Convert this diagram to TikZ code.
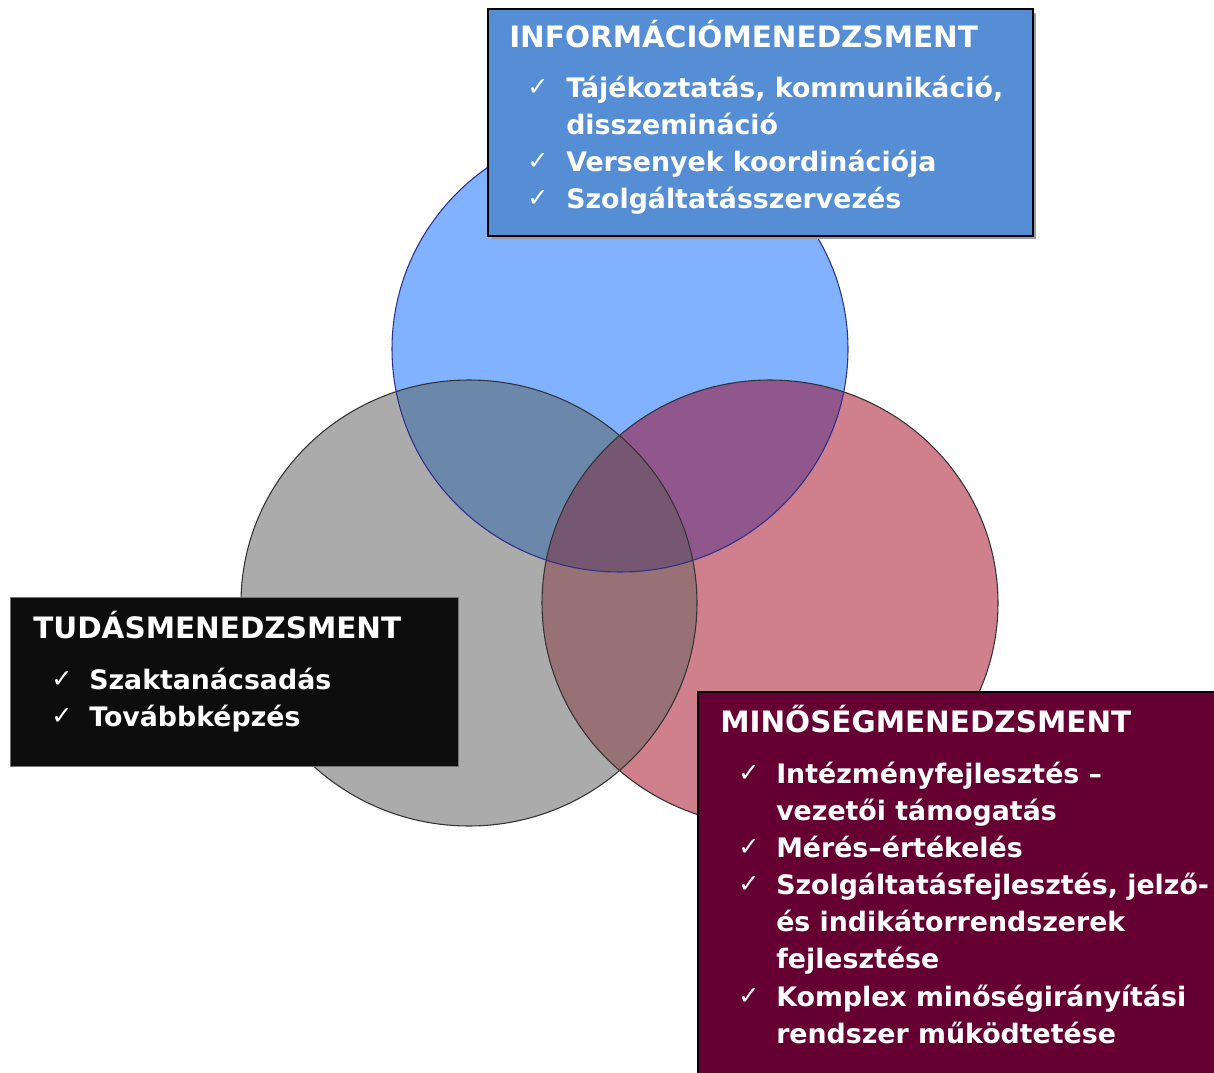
\documentclass[tikz,border=0pt]{standalone}
\usepackage{fontspec}
\setmainfont{DejaVu Sans}
\newfontfamily\chk{DejaVu Sans}
\definecolor{cblue}{HTML}{80B2FF}
\definecolor{cgray}{HTML}{ABABAB}
\definecolor{cred}{HTML}{D07F8C}
\definecolor{cbg}{HTML}{6B87AA}
\definecolor{cbr}{HTML}{8F578C}
\definecolor{cgr}{HTML}{977174}
\definecolor{call}{HTML}{765771}
\definecolor{boxblue}{HTML}{558ED5}
\definecolor{boxred}{HTML}{660033}
\definecolor{boxblack}{HTML}{0D0D0D}
\definecolor{shadowc}{HTML}{9C97AA}
\definecolor{bluerim}{HTML}{30308A}
\tikzset{
  ttl/.style={anchor=base west, text=white, inner sep=0pt, font=\fontsize{22.1}{26}\selectfont\bfseries},
  itm/.style={anchor=base west, text=white, inner sep=0pt, font=\fontsize{20.1}{26}\selectfont\bfseries},
  ck/.style={anchor=base west, text=white, inner sep=0pt, font=\fontsize{19}{22}\selectfont\chk},
}
\begin{document}
\begin{tikzpicture}[x=0.75pt,y=-0.75pt]
\useasboundingbox (0,0) rectangle (1214,1073);
% circles
\def\cG{(469,603) ellipse [x radius=228, y radius=223]}
\def\cR{(770,603) ellipse [x radius=228, y radius=223]}
\def\cB{(620,349) ellipse [x radius=228, y radius=223]}
\fill[cgray] \cG;
\fill[cred] \cR;
\fill[cblue] \cB;
\begin{scope}\clip \cG; \fill[cgr] \cR; \end{scope}
\begin{scope}\clip \cG; \fill[cbg] \cB; \end{scope}
\begin{scope}\clip \cR; \fill[cbr] \cB; \end{scope}
\begin{scope}\clip \cG; \clip \cR; \fill[call] \cB; \end{scope}
\draw[black!80, line width=0.8pt] \cG;
\draw[black!80, line width=0.8pt] \cR;
\draw[bluerim, line width=0.8pt] \cB;
% top box
\fill[shadowc] (492,13) rectangle (1036,239);
\node[draw=black, line width=1.5pt, fill=boxblue, minimum width=545*0.75pt, minimum height=227*0.75pt, anchor=north west, inner sep=0pt] (info) at (487,8) {};
\node[ttl] (t1) at (509,48) {INFORMÁCIÓMENEDZSMENT};
\node[ck] (k11) at (527,96) {✓};
\node[itm] (i11) at (566,98) {Tájékoztatás, kommunikáció,};
\node[itm] (i12) at (566,135) {disszemináció};
\node[ck] (k12) at (527,170) {✓};
\node[itm] (i13) at (566,172) {Versenyek koordinációja};
\node[ck] (k13) at (527,207) {✓};
\node[itm] (i14) at (566,209) {Szolgáltatásszervezés};
% left box
\node[draw=black!55, line width=1pt, fill=boxblack, minimum width=448*0.75pt, minimum height=169*0.75pt, anchor=north west, inner sep=0pt] (tudas) at (10,597) {};
\node[ttl] (t2) at (33,638) {TUDÁSMENEDZSMENT};
\node[ck] (k21) at (51,687) {✓};
\node[itm] (i21) at (89,689) {Szaktanácsadás};
\node[ck] (k22) at (51,724) {✓};
\node[itm] (i22) at (89,726) {Továbbképzés};
% right box
\node[draw=black, line width=1.5pt, fill=boxred, minimum width=530*0.75pt, minimum height=400*0.75pt, anchor=north west, inner sep=0pt] (minoseg) at (697,691) {};
\node[ttl] (t3) at (720,732) {MINŐSÉGMENEDZSMENT};
\node[ck] (k31) at (738,781) {✓};
\node[itm] (i31) at (776,783) {Intézményfejlesztés –};
\node[itm] (i32) at (776,820) {vezetői támogatás};
\node[ck] (k33) at (738,855) {✓};
\node[itm] (i33) at (776,857) {Mérés–értékelés};
\node[ck] (k34) at (738,892) {✓};
\node[itm] (i34) at (776,894) {Szolgáltatásfejlesztés, jelző-};
\node[itm] (i35) at (776,931) {és indikátorrendszerek};
\node[itm] (i36) at (776,968) {fejlesztése};
\node[ck] (k37) at (738,1004) {✓};
\node[itm] (i37) at (776,1006) {Komplex minőségirányítási};
\node[itm] (i38) at (776,1043) {rendszer működtetése};
\end{tikzpicture}
\end{document}
